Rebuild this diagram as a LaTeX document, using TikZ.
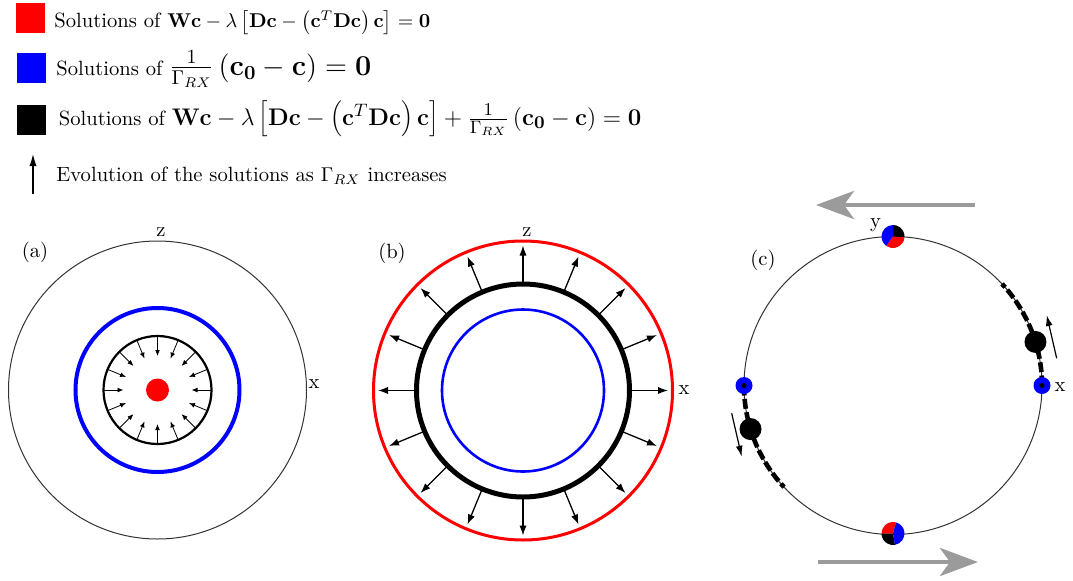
\documentclass[tikz,border=0pt]{standalone}
\usetikzlibrary{arrows.meta}
\definecolor{arrowgray}{RGB}{155,155,155}
\begin{document}
\begin{tikzpicture}[x=0.5pt,y=0.5pt,
    every node/.style={font=\fontsize{10.3}{12.4}\selectfont},
    keybox/.style={minimum width=14.5pt,minimum height=15pt,inner sep=0pt},
    lbl/.style={inner sep=0pt},
    keytext/.style={anchor=base west,inner sep=0pt},
    thincirc/.style={black!80,line width=0.5pt},
    inarr/.style={-{Latex[length=3pt,width=2.4pt]},line width=0.4pt},
    outarr/.style={-{Latex[length=5pt,width=3.6pt]},line width=0.65pt},
    smallarr/.style={-{Latex[length=5.5pt,width=3.4pt]},line width=0.6pt},
    bigarr/.style={arrowgray,line width=2.4pt,-{Stealth[length=19pt,width=14pt,inset=5pt]}},
    solpath/.style={line width=2.3pt,dash pattern=on 5pt off 1.7pt}]
    \useasboundingbox (0,0) rectangle (1073,-580);
    % legend
    \node[keybox,fill=red] (kred) at (30.5,-17.7) {};
    \node[keybox,fill=blue] (kblue) at (31,-68) {};
    \node[keybox,fill=black] (kblack) at (31.5,-119.5) {};
    \node[keytext] (tred) at (54,-27.5) {Solutions of $\mathbf{Wc}-\lambda\left[\mathbf{Dc}-\left(\mathbf{c}^T\mathbf{Dc}\right)\mathbf{c}\right]=\mathbf{0}$};
    \node[keytext] (tblue) at (56,-75) {Solutions of {\fontsize{14.8}{17.8}\selectfont $\frac{1}{\Gamma_{RX}}\left(\mathbf{c_0}-\mathbf{c}\right)=\mathbf{0}$}};
    \node[keytext] (tblack) at (58.5,-125) {Solutions of {\fontsize{12.4}{15}\selectfont $\mathbf{Wc}-\lambda\left[\mathbf{Dc}-\left(\mathbf{c}^T\mathbf{Dc}\right)\mathbf{c}\right]+\frac{1}{\Gamma_{RX}}\left(\mathbf{c_0}-\mathbf{c}\right)=\mathbf{0}$}};
    \coordinate (ev0) at (33,-194);
    \coordinate (ev1) at (33,-154);
    \draw[-{Latex[length=6pt,width=3.6pt]},line width=0.6pt] (ev0) -- (ev1);
    \node[keytext] (tevol) at (56,-181) {Evolution of the solutions as $\Gamma_{RX}$ increases};

    % (a)
    \coordinate (ca) at (157.5,-390);
    \draw[thincirc] (ca) circle (149);
    \draw[blue,line width=2pt] (ca) circle (82);
    \draw[line width=1.1pt] (ca) circle (54);
    \fill[red] (ca) circle (11.5);
    \foreach \a in {0,22.5,...,337.5}
        \draw[inarr,shift={(ca)}] (\a:54) -- (\a:34);
    \node[lbl] (za) at (161,-232) {z};
    \node[lbl] (xa) at (314,-384) {x};
    \node[lbl] (pa) at (35,-252) {(a)};

    % (b)
    \coordinate (cb) at (523,-390.5);
    \draw[red,line width=1.5pt] (cb) circle (149.5);
    \draw[line width=2.5pt] (cb) circle (106.5);
    \draw[blue,line width=1.3pt] (cb) circle (81);
    \foreach \a in {0,22.5,...,337.5}
        \draw[outarr,shift={(cb)}] (\a:107) -- (\a:145);
    \node[lbl] (zb) at (527,-232) {z};
    \node[lbl] (xb) at (684,-390) {x};
    \node[lbl] (pb) at (392,-253) {(b)};

    % (c)
    \coordinate (cc) at (893,-385.5);
    \draw[thincirc] (cc) circle (149);
    \draw[solpath,shift={(cc)}] (0:149) arc[start angle=0,end angle=43,radius=149];
    \draw[solpath,shift={(cc)}] (180:149) arc[start angle=180,end angle=223,radius=149];
    \coordinate (ptop) at (893,-236.5);
    \fill[black] (ptop) -- ++(-5:11.5) arc[start angle=-5,end angle=90,radius=11.5] -- cycle;
    \fill[blue] (ptop) -- ++(90:11.5) arc[start angle=90,end angle=235,radius=11.5] -- cycle;
    \fill[red] (ptop) -- ++(235:11.5) arc[start angle=235,end angle=355,radius=11.5] -- cycle;
    \coordinate (pbot) at (893,-533.5);
    \fill[red] (pbot) -- ++(75:11.5) arc[start angle=75,end angle=180,radius=11.5] -- cycle;
    \fill[black] (pbot) -- ++(180:11.5) arc[start angle=180,end angle=280,radius=11.5] -- cycle;
    \fill[blue] (pbot) -- ++(280:11.5) arc[start angle=280,end angle=435,radius=11.5] -- cycle;
    \coordinate (bleft) at (744,-385.5);
    \coordinate (bright) at (1042,-385.5);
    \fill[blue] (bleft) circle (8.5);
    \fill[blue] (bright) circle (8.5);
    \fill (bleft) circle (2.5);
    \fill (bright) circle (2.5);
    \fill[shift={(cc)}] (17:149) circle (11);
    \fill[shift={(cc)}] (197:149) circle (11);
    \coordinate (ar0) at (1056.7,-358.3);
    \coordinate (ar1) at (1046.7,-315);
    \coordinate (al0) at (731.7,-413.3);
    \coordinate (al1) at (741.7,-456.7);
    \draw[smallarr] (ar0) -- (ar1);
    \draw[smallarr] (al0) -- (al1);
    \coordinate (gt0) at (975,-205);
    \coordinate (gt1) at (816,-205);
    \coordinate (gb0) at (818,-562);
    \coordinate (gb1) at (978,-562);
    \draw[bigarr] (gt0) -- (gt1);
    \draw[bigarr] (gb0) -- (gb1);
    \node[lbl] (yc) at (875.5,-225) {y};
    \node[lbl] (xc) at (1060,-387) {x};
    \node[lbl] (pc) at (763,-260) {(c)};
\end{tikzpicture}
\end{document}
